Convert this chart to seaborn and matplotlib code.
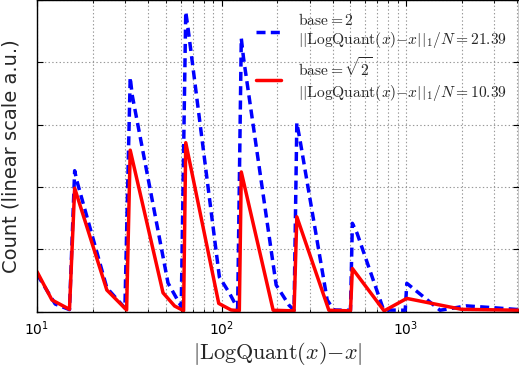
import matplotlib
matplotlib.use("Agg")
import matplotlib.pyplot as plt
from matplotlib.font_manager import FontProperties
import seaborn as sns

# ---- data ----
blue_label = "$\\mathrm{base}=2$\n$||\\mathrm{LogQuant}(x){-}x||_1/N=21.39$"
red_label = "$\\mathrm{base}=\\sqrt{2}$\n$||\\mathrm{LogQuant}(x){-}x||_1/N=10.39$"

blue_x = [10, 12.55, 15.0, 16, 16.4, 23.9, 29.95, 32, 32.8, 51.3, 60.5, 64, 65.7,
          97.4, 110.3, 122.3, 128, 131.6, 197.8, 232.4, 247.3, 256, 266.4, 373.9,
          406.4, 500, 512, 543, 756, 990, 1010, 1529, 2128, 3000, 4096]
blue_y = [0.60, 0.12, 0.03, 2.26, 2.11, 0.38, 0.056, 3.76, 3.475, 0.457, 0.08, 4.81, 4.57,
          0.553, 0.297, 0.05, 4.385, 4.07, 0.425, 0.10, 0.02, 3.03, 2.75, 0.185,
          0.024, 0.02, 1.416, 1.255, 0.024, 0.02, 0.453, 0.02, 0.09, 0.06, 0.03]

red_x = [10, 12.05, 15.0, 16, 23.9, 30.6, 32, 48.2, 55.7, 62.3, 64, 96.6, 112.7, 124.9,
         128, 190.5, 247.3, 256, 381.9, 500, 512, 761, 1010, 2000, 4096]
red_y = [0.64, 0.185, 0.035, 1.98, 0.345, 0.024, 2.59, 0.30, 0.088, 0.013, 2.71, 0.13,
         0.024, 0.013, 2.24, 0.02, 0.01, 1.52, 0.02, 0.01, 0.69, 0.01, 0.21, 0.035, 0.02]

xlabel = "$|\\mathrm{LogQuant}(x){-}x|$"
ylabel = "Count (linear scale a.u.)"

sns.set_style("white")
plt.rcParams["font.family"] = ["DejaVu Sans"]
plt.rcParams["lines.scale_dashes"] = False

fig = plt.figure(figsize=(5.19, 3.69), dpi=100)
ax = fig.add_axes([37 / 519, (369 - 311.5) / 369, (519 - 37) / 519, 311.5 / 369])

sns.lineplot(x=blue_x, y=blue_y, color=(0, 0, 1), linewidth=2.5, linestyle=(0, (6.5, 3.8)),
             estimator=None, sort=False, label=blue_label, ax=ax)
sns.lineplot(x=red_x, y=red_y, color=(1, 0, 0), linewidth=2.5,
             estimator=None, sort=False, label=red_label, ax=ax)

ax.set_xscale("log")
ax.set_xlim(10, 4096)
ax.set_ylim(0, 5)
ax.set_yticks([0, 1, 2, 3, 4, 5])
ax.set_yticklabels([])

ax.grid(True, which="both", axis="x", color="0.6", linestyle=":", linewidth=0.8)
ax.grid(True, which="major", axis="y", color="0.6", linestyle=":", linewidth=0.8)

for s in ax.spines.values():
    s.set_color("black")
    s.set_linewidth(1.0)

ax.tick_params(which="both", direction="in", top=True, right=True, bottom=True, left=True,
               colors="black")
ax.tick_params(which="major", length=4, width=0.8, labelsize=10, pad=6)
ax.tick_params(which="minor", length=2, width=0.6)

ax.set_xlabel(xlabel, fontsize=16, math_fontfamily="cm", labelpad=1)
ax.set_ylabel(ylabel, fontsize=14, labelpad=6)

prop = FontProperties(size=11.2, math_fontfamily="cm")
ax.legend(loc="upper right", frameon=False, prop=prop, handlelength=1.6,
          handletextpad=1.1, labelspacing=0.4, borderaxespad=0.35)

fig.savefig("out.png", dpi=100)
